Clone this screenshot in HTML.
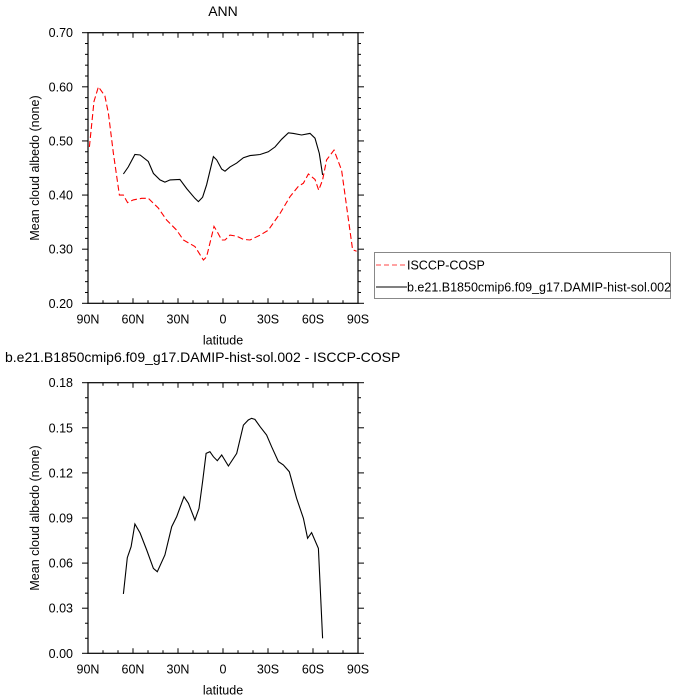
<!DOCTYPE html>
<html><head><meta charset="utf-8"><style>
html,body{margin:0;padding:0;background:#fff;}
svg{display:block;font-family:"Liberation Sans",Arial,sans-serif;}
</style></head><body>
<svg id="c" width="700" height="700" xmlns="http://www.w3.org/2000/svg"></svg>
<script>
const latTicks=["90N","60N","30N","0","30S","60S","90S"];
const latTickVals=[90,60,30,0,-30,-60,-90];
const topYTicks=[0.20,0.30,0.40,0.50,0.60,0.70];
const botYTicks=[0.00,0.03,0.06,0.09,0.12,0.15,0.18];
const obsLat=[89.1,86,83.1,78.7,76.4,73.1,69.1,66.4,63.6,59.8,54.2,49.8,43.1,37.6,30.9,26.4,18.7,13.1,10.9,6,3.8,0.9,-1.3,-4.7,-9.1,-13.6,-18,-24.7,-30.2,-38,-44.7,-50.2,-53.6,-56.9,-61.3,-63.8,-66.4,-69.1,-74,-79.1,-82.4,-86.4,-89.1];
const obsVal=[0.489,0.573,0.600,0.583,0.551,0.477,0.400,0.400,0.386,0.391,0.394,0.394,0.376,0.354,0.335,0.317,0.305,0.280,0.286,0.342,0.332,0.317,0.317,0.326,0.324,0.318,0.317,0.326,0.335,0.366,0.397,0.416,0.422,0.439,0.429,0.409,0.428,0.465,0.483,0.446,0.379,0.299,0.296];
const modLat=[66.4,63.1,58.7,55.3,49.8,46.4,42,38.7,35.3,28.7,24.2,18.7,16.4,13.6,10.9,6.4,4.2,0.9,-1.3,-4.7,-9.1,-13.6,-18,-24.7,-30.2,-34.7,-39.1,-43.6,-46.9,-52.4,-58,-61.3,-64.2,-66.4];
const modVal=[0.439,0.452,0.475,0.474,0.462,0.440,0.428,0.424,0.428,0.429,0.412,0.394,0.388,0.396,0.419,0.471,0.465,0.448,0.444,0.452,0.459,0.469,0.473,0.475,0.480,0.489,0.503,0.515,0.514,0.511,0.514,0.505,0.477,0.437];
const diffLat=[66.4,63.8,61.3,58.7,55.3,50.9,46.4,43.8,38.7,34.2,30.9,26,23.1,18.7,16,13.6,11.3,8.7,6.4,3.8,0.9,-3.6,-9.1,-13.6,-16.9,-19.1,-21.3,-24.7,-29.1,-32.4,-36.9,-40.2,-44.2,-49.1,-53.6,-56.4,-59.1,-63.6,-66.4];
const diffVal=[0.0395,0.0636,0.0709,0.086,0.080,0.0687,0.0565,0.0543,0.0654,0.0842,0.0909,0.1042,0.0998,0.0887,0.0964,0.1142,0.133,0.1341,0.1308,0.1281,0.1319,0.1246,0.133,0.1518,0.1552,0.1563,0.1556,0.1507,0.1452,0.1374,0.1275,0.1253,0.1208,0.1031,0.0898,0.0765,0.0803,0.0698,0.0100];

const NS="http://www.w3.org/2000/svg";
const svg=document.getElementById('c');
function mk(tag,attrs,parent,text){const e=document.createElementNS(NS,tag);for(const k in attrs)e.setAttribute(k,attrs[k]);if(text!==undefined)e.textContent=text;(parent||svg).appendChild(e);return e;}
const L=88,R=358;
const xs=lat=>L+(90-lat)/180*(R-L);

function panel(name,top,bot,ymin,ymax,yticks,dec,minorStep){
  const g=mk('g',{});
  
  
  const ys=v=>bot-(v-ymin)/(ymax-ymin)*(bot-top);
  const fr=mk('rect',{x:L,y:top,width:R-L,height:bot-top,fill:'none',stroke:'#000','stroke-width':1.2},g);
  
  
  for(let lat=90;lat>=-90;lat-=10){
    const x=xs(lat),maj=lat%30===0;const len=maj?5:3;
    mk('line',{x1:x,x2:x,y1:bot,y2:bot-len,stroke:'#000'},g);
    mk('line',{x1:x,x2:x,y1:top,y2:top+len,stroke:'#000'},g);
  }
  latTicks.forEach((t,i)=>{
    const e=mk('text',{x:xs(latTickVals[i]),y:bot+20,'text-anchor':'middle','font-size':12.5},g,t);
    
    
  });
  const n=Math.round((ymax-ymin)/minorStep);
  for(let i=0;i<=n;i++){
    const v=ymin+i*minorStep;const y=ys(v);
    const maj=yticks.some(t=>Math.abs(t-v)<1e-6);const len=maj?6:3;
    mk('line',{x1:L,x2:L-len,y1:y,y2:y,stroke:'#000'},g);
    mk('line',{x1:R,x2:R+len,y1:y,y2:y,stroke:'#000'},g);
  }
  yticks.forEach(t=>{
    const e=mk('text',{x:73,y:ys(t)+4.5,'text-anchor':'end','font-size':12.5},g,t.toFixed(2));
    
    
  });
  const xl=mk('text',{x:(L+R)/2,y:bot+41,'text-anchor':'middle','font-size':12.5},g,'latitude');
  
  
  const yl=mk('text',{x:0,y:0,'text-anchor':'middle','font-size':12.5,transform:`translate(39,${(top+bot)/2}) rotate(-90)`},g,'Mean cloud albedo (none)');
  
  
  return {g,ys};
}
function line(g,ys,lats,vals,attrs,name){
  const d=lats.map((l,i)=>(i?'L':'M')+xs(l).toFixed(1)+','+ys(vals[i]).toFixed(1)).join('');
  const p=mk('path',Object.assign({d,fill:'none'},attrs),g);
  
  
}

const t1=mk('text',{x:223,y:16,'text-anchor':'middle','font-size':14},svg,'ANN');


const p1=panel('top-panel',32.7,303.3,0.2,0.7,topYTicks,2,0.02);
line(p1.g,p1.ys,obsLat,obsVal,{stroke:'#f00','stroke-width':1.1,'stroke-dasharray':'6,3'},'series-isccp-cosp');
line(p1.g,p1.ys,modLat,modVal,{stroke:'#000','stroke-width':1.1},'series-model');

const lg=mk('g',{});


mk('rect',{x:374.5,y:252.5,width:296,height:46,fill:'#fff',stroke:'#888'},lg);
mk('line',{x1:376,x2:407,y1:265,y2:265,stroke:'#f44','stroke-width':1.1,'stroke-dasharray':'5,3'},lg);
const le1=mk('text',{x:407,y:269.5,'font-size':12.5},lg,'ISCCP-COSP');


mk('line',{x1:376,x2:407,y1:287,y2:287,stroke:'#000','stroke-width':1.1},lg);
const le2=mk('text',{x:407,y:291.5,'font-size':12.5},lg,'b.e21.B1850cmip6.f09_g17.DAMIP-hist-sol.002');



const t2=mk('text',{x:5,y:362,'font-size':14},svg,'b.e21.B1850cmip6.f09_g17.DAMIP-hist-sol.002 - ISCCP-COSP');


const p2=panel('bottom-panel',382.7,653.3,0,0.18,botYTicks,2,0.01);
line(p2.g,p2.ys,diffLat,diffVal,{stroke:'#000','stroke-width':1.1},'series-difference');
</script>
</body></html>
